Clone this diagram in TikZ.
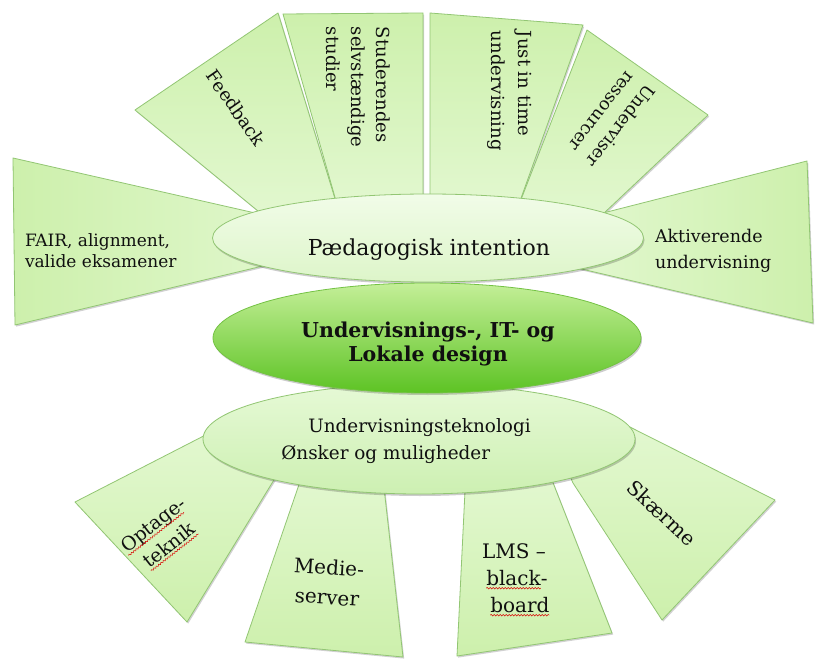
\documentclass[tikz,border=0pt]{standalone}
\usepackage{fontspec}
\setmainfont{DejaVu Serif}
\usetikzlibrary{shapes.geometric,shadows,decorations.pathmorphing}

\definecolor{ink}{HTML}{101010}
\definecolor{petalA}{HTML}{CDF0AC}
\definecolor{petalB}{HTML}{E3F8D1}
\definecolor{petalline}{HTML}{92C673}
\definecolor{topfillA}{HTML}{F1FCE8}
\definecolor{topfillB}{HTML}{DDF5C9}
\definecolor{midA}{HTML}{C4EF98}
\definecolor{midB}{HTML}{5DC324}
\definecolor{midline}{HTML}{74C244}
\definecolor{lowA}{HTML}{E6F9D6}
\definecolor{lowB}{HTML}{CDF0B2}

\newcommand\fsz[2]{\fontsize{#1}{#2}\selectfont}
% word with a red wavy underline
\newcommand\redwavy[1]{\tikz[baseline=(rw.base)]{\node[inner sep=0pt,outer sep=0pt] (rw) {#1};
  \draw[red!85!black,line width=0.5pt,decorate,decoration={snake,amplitude=0.8pt,segment length=3pt}]
    ([yshift=-2.6pt]rw.base west) -- ([yshift=-2.6pt]rw.base east);}}

\tikzset{
  petal/.style={draw=petalline, line width=0.8pt, line join=round,
    drop shadow={shadow xshift=1.2pt, shadow yshift=-1.6pt, opacity=0.18, fill=black}},
  uppetal/.style={petal, top color=petalA, bottom color=petalB},
  lowpetal/.style={petal, top color=petalB, bottom color=petalA},
  sidepetal/.style={petal, top color=petalA!80!petalB, bottom color=petalA!80!petalB},
  lbl/.style={inner sep=0pt, outer sep=0pt, text=ink, align=center},
  oval/.style={ellipse, inner sep=0pt,
    drop shadow={shadow xshift=1pt, shadow yshift=-2pt, opacity=0.2, fill=black}},
}

\begin{document}
\begin{tikzpicture}[x=1pt,y=-1pt]
\useasboundingbox (0,0) rectangle (816,660);
\fill[white] (0,0) rectangle (816,660);

% upper fan
\path[sidepetal, left color=petalA, right color=petalB] (13,158) -- (330,230) -- (330,250) -- (15,325) -- cycle;
\path[uppetal] (135,110) -- (278,13) -- (340,215) -- (275,225) -- cycle;
\path[uppetal] (283,14) -- (423,13) -- (423,215) -- (340,215) -- cycle;
\path[uppetal] (430,13) -- (583,25) -- (515,215) -- (430,215) -- cycle;
\path[uppetal] (587,30) -- (708,115) -- (585,231) -- (515,215) -- cycle;
\path[sidepetal, left color=petalB, right color=petalA] (560,224) -- (807,161) -- (813,323) -- (560,264) -- cycle;

% lower fan
\path[lowpetal] (75,502) -- (225,425) -- (280,470) -- (187,622) -- cycle;
\path[lowpetal] (304,470) -- (382,470) -- (403,657) -- (245,642) -- cycle;
\path[lowpetal] (466,470) -- (548,470) -- (612,633) -- (457,656) -- cycle;
\path[lowpetal] (565,465) -- (612,418) -- (775,500) -- (662,620) -- (573,483) -- cycle;

% ovals
\node[oval, draw=petalline, line width=0.8pt, top color=topfillA, bottom color=topfillB,
  minimum width=431pt, minimum height=88pt] (ped) at (428,238) {};
\node[oval, draw=petalline, line width=0.8pt, top color=lowA, bottom color=lowB,
  minimum width=432pt, minimum height=110pt] (tek) at (419,439) {};
\node[oval, draw=midline, line width=0.8pt, top color=midA, bottom color=midB,
  minimum width=428pt, minimum height=110pt] (ctr) at (427,338) {};

% oval texts
\node[lbl, anchor=base, font=\fsz{22}{26}] (pedtxt) at (429,255) {Pædagogisk intention};
\node[lbl, font=\bfseries\fsz{20.5}{24}] (ctrtxt) at (428,344) {Undervisnings-, IT- og\\Lokale design};
\node[lbl, align=left, font=\fsz{18.4}{27}] (tektxt) at (406,441) {\hspace*{27pt}Undervisningsteknologi\\Ønsker og muligheder};

% upper fan texts
\node[lbl, align=left, anchor=west, font=\fsz{17}{21}] (fairtxt) at (25,251) {FAIR, alignment,\\valide eksamener};
\node[lbl, rotate=-55, font=\fsz{18}{22}] (fbtxt) at (236,108) {Feedback};
\node[lbl, align=left, rotate=-90, anchor=west, font=\fsz{18}{25}] (studtxt) at (358,27) {Studerendes\\selvstændige\\studier};
\node[lbl, align=left, rotate=-90, anchor=west, font=\fsz{18}{27}] (jittxt) at (510,31) {Just in time\\undervisning};
\node[lbl, rotate=-128, font=\fsz{17.5}{24}] (restxt) at (612,119) {Underviser\\ressourcer};
\node[lbl, align=left, anchor=west, font=\fsz{17.5}{26}] (akttxt) at (655,251) {Aktiverende\\undervisning};

% lower fan texts
\node[lbl, rotate=38, font=\fsz{19}{26}] (opttxt) at (162,536) {\redwavy{Optage}-\\\redwavy{teknik}};
\node[lbl, rotate=-4, font=\fsz{20}{30}] (medtxt) at (328,582) {Medie-\\server};
\node[lbl, align=left, anchor=west, font=\fsz{20}{27}] (lmstxt) at (482,580) {LMS –\\\hspace*{4pt}\redwavy{black}-\\\hspace*{8pt}\redwavy{board}};
\node[lbl, rotate=-43, font=\fsz{20}{24}] (skaertxt) at (662,513) {Skærme};
\end{tikzpicture}
\end{document}
